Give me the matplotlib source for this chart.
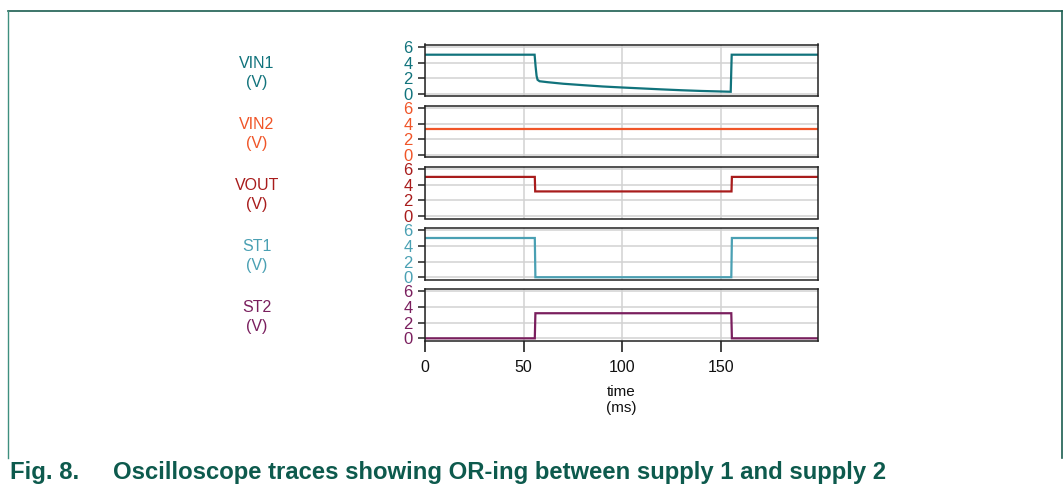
import matplotlib
matplotlib.use("Agg")
import matplotlib.pyplot as plt
from matplotlib.lines import Line2D

# ---- data ----
vin1_t = [0, 55.5, 56.0, 56.5, 57.0, 58.0, 62.0, 70.0, 80.0, 90.0, 100.0, 110.0, 120.0, 130.0, 140.0, 154.8, 155.3, 199]
vin1_v = [5.0, 5.0, 3.5, 2.3, 1.8, 1.62, 1.5, 1.3, 1.12, 0.95, 0.82, 0.7, 0.58, 0.47, 0.38, 0.28, 5.0, 5.0]

vin2_t = [0, 199]
vin2_v = [3.3, 3.3]

vout_t = [0, 55.6, 55.8, 155.2, 155.4, 199]
vout_v = [5.0, 5.0, 3.15, 3.15, 5.0, 5.0]

st1_t = [0, 55.6, 55.9, 155.1, 155.4, 199]
st1_v = [5.0, 5.0, 0.0, 0.0, 5.0, 5.0]

st2_t = [0, 55.6, 55.9, 155.1, 155.4, 199]
st2_v = [0.0, 0.0, 3.2, 3.2, 0.0, 0.0]

series_names = ["VIN1", "VIN2", "VOUT", "ST1", "ST2"]
series_units = ["(V)", "(V)", "(V)", "(V)", "(V)"]
series_colors = ["#11737c", "#f05528", "#a81c1c", "#4aa0b3", "#7a1f5e"]
series_data = [(vin1_t, vin1_v), (vin2_t, vin2_v), (vout_t, vout_v), (st1_t, st1_v), (st2_t, st2_v)]

y_ticks = [0, 2, 4, 6]
x_ticks = [0, 50, 100, 150]
x_label = "time\n(ms)"
caption_num = "Fig. 8."
caption_text = "Oscilloscope traces showing OR-ing between supply 1 and supply 2"

# ---- figure ----
W, H = 1064, 488
fig = plt.figure(figsize=(W / 100, H / 100), dpi=100)
plt.rcParams['font.family'] = ['Liberation Sans', 'DejaVu Sans']

frame_col = "#1b5e50"
fig.add_artist(Line2D([8 / W, 1062 / W], [1 - 11 / H, 1 - 11 / H], color=frame_col, lw=1.2, transform=fig.transFigure))
fig.add_artist(Line2D([8 / W, 8 / W], [1 - 11 / H, 1 - 458 / H], color="#3f8f7f", lw=1.0, transform=fig.transFigure))
fig.add_artist(Line2D([1062 / W, 1062 / W], [1 - 11 / H, 1 - 458 / H], color=frame_col, lw=1.2, transform=fig.transFigure))

left_px, right_px = 425, 818
top0, pitch, h_px = 44.5, 61.1, 51.8

axes = []
for i, (name, unit, col, (t, v)) in enumerate(zip(series_names, series_units, series_colors, series_data)):
    top = top0 + i * pitch
    ax = fig.add_axes([left_px / W, 1 - (top + h_px) / H, (right_px - left_px) / W, h_px / H])
    ax.plot(t, v, color=col, lw=1.6, solid_joinstyle="miter")
    ax.set_xlim(0, 199)
    ax.set_ylim(-0.3, 6.3)
    ax.set_yticks(y_ticks)
    ax.set_xticks(x_ticks)
    ax.grid(True, color="#d2d2d2", lw=1.1)
    ax.set_axisbelow(True)
    ax.tick_params(axis="y", direction="out", length=5, width=1.2, color="#333333",
                   labelsize=12, labelcolor=col, pad=4)
    for s in ax.spines.values():
        s.set_color("#222222")
        s.set_linewidth(1.1)
    if i < len(series_names) - 1:
        ax.tick_params(axis="x", length=0, labelbottom=False)
    else:
        ax.tick_params(axis="x", direction="out", length=8, width=1.2, color="#222222",
                       labelsize=11.5, labelcolor="#111111", pad=6)
        ax.set_xlabel(x_label, fontsize=11, color="#111111", labelpad=7, linespacing=1.2)
    fig.text(257 / W, 1 - (top + h_px / 2 + 2.5) / H, f"{name}\n{unit}", color=col, fontsize=11.5,
             ha="center", va="center", linespacing=1.3)
    axes.append(ax)

cap_col = "#0d5a4d"
fig.text(10 / W, 1 - 472 / H, caption_num, color=cap_col, fontsize=17.2, fontweight="bold", va="center", ha="left")
fig.text(113 / W, 1 - 472 / H, caption_text, color=cap_col, fontsize=17.2, fontweight="bold", va="center", ha="left")

fig.savefig("out.png", dpi=100)
